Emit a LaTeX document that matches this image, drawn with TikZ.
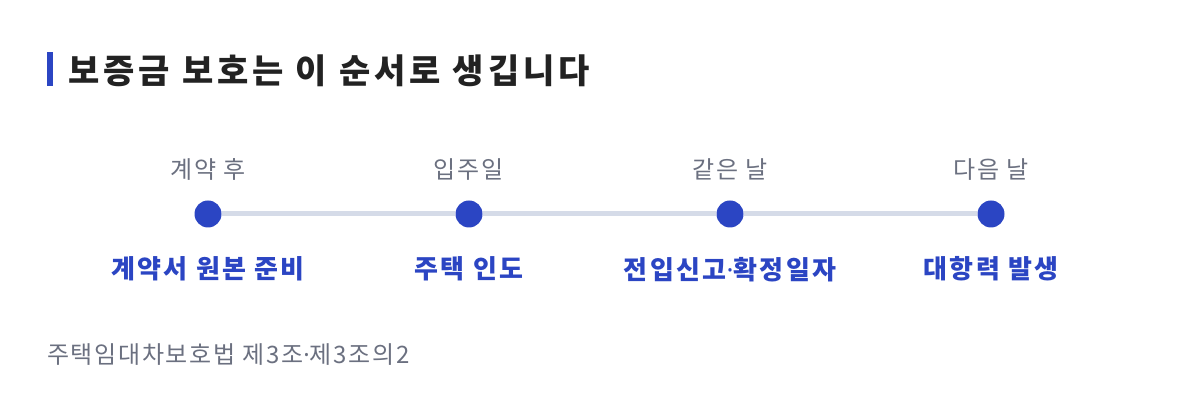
\documentclass[tikz,border=0pt]{standalone}
\usepackage{fontspec}
\setmainfont{Noto Sans CJK KR}
\newfontfamily\latinfont{Noto Sans}
\usetikzlibrary{positioning}

\definecolor{accent}{HTML}{2B45C3}
\definecolor{ink}{HTML}{222222}
\definecolor{muted}{HTML}{6B7080}
\definecolor{track}{HTML}{D5DBE8}

\begin{document}
\begin{tikzpicture}[x=1pt,y=1pt,
                dot/.style={circle,fill=accent,inner sep=0pt,minimum size=27pt},
                when/.style={font=\fontsize{24}{26}\selectfont\addfontfeature{LetterSpace=8},text=muted,inner sep=0pt},
                what/.style={font=\fontsize{26}{28}\selectfont\bfseries\addfontfeature{LetterSpace=9},text=accent,inner sep=0pt}]

	\useasboundingbox[fill=white] (0,0) rectangle (1200,414);

	% heading
	\fill[accent] (47,328) rectangle (53,362);
	\node[anchor=west,inner sep=0pt,text=ink,font=\fontsize{34}{36}\selectfont\bfseries\addfontfeature{LetterSpace=12}] (title) at (68,343) {보증금 보호는 이 순서로 생깁니다};

	% steps
	\node[dot] (1) at (208,200) {};
	\node[dot] (2) at (469,200) {};
	\node[dot] (3) at (730,200) {};
	\node[dot] (4) at (991,200) {};

	\node[when] (t1) [above=20pt of 1] {계약 후};
	\node[when] (t2) [above=20pt of 2] {입주일};
	\node[when] (t3) [above=20pt of 3] {같은 날};
	\node[when] (t4) [above=20pt of 4] {다음 날};

	\node[what] (b1) [below=29pt of 1] {계약서 원본 준비};
	\node[what] (b2) [below=29pt of 2] {주택 인도};
	\node[what] (b3) [below=29pt of 3] {전입신고{\latinfont\bfseries ·}확정일자};
	\node[what] (b4) [below=29pt of 4] {대항력 발생};

	\draw[track,line width=5pt] (1) -- (2) -- (3) -- (4);

	% source
	\node[anchor=west,inner sep=0pt,text=muted,font=\fontsize{24}{26}\selectfont\addfontfeature{LetterSpace=7}] (law) at (47,59) {주택임대차보호법 제3조{\latinfont ·}제3조의2};
\end{tikzpicture}
\end{document}
